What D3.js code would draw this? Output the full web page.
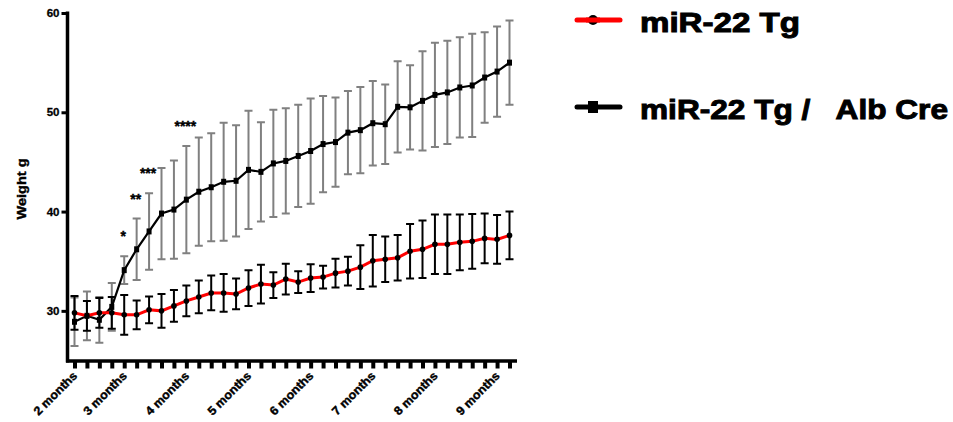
<!DOCTYPE html>
<html>
<head>
<meta charset="utf-8">
<script src="https://cdn.jsdelivr.net/npm/d3@7"></script>
<style>
  html, body { margin: 0; padding: 0; background: #fff; }
  svg { display: block; }
  text { font-family: "Liberation Sans", Arial, sans-serif; font-weight: bold; }
</style>
</head>
<body>
<svg id="chart" width="953" height="422"></svg>
<script>
// ---- data ----
const weekIndex = d3.range(36);
const xTickLabelIdx = [0, 4, 9, 14, 19, 24, 29, 34];
const xTickLabels = ["2 months", "3 months", "4 months", "5 months", "6 months", "7 months", "8 months", "9 months"];
const yTicks = [30, 40, 50, 60];

const tgMean = [29.8, 29.5, 29.8, 29.8, 29.6, 29.6, 30.1, 30.0, 30.5, 31.0, 31.4, 31.8,
                31.8, 31.7, 32.3, 32.7, 32.6, 33.2, 32.9, 33.3, 33.4, 33.8, 34.0, 34.4,
                35.05, 35.2, 35.35, 36.0, 36.2, 36.7, 36.7, 36.9, 37.0, 37.3, 37.2, 37.6];
const tgSem  = [1.7, 1.5, 1.5, 1.6, 2.0, 1.45, 1.35, 1.7, 1.6, 1.55, 1.65, 1.75,
                1.9, 1.55, 1.8, 1.95, 1.3, 1.55, 1.1, 1.4, 1.15, 1.45, 1.45, 2.2,
                2.6, 2.3, 2.3, 2.75, 2.9, 3.0, 3.0, 2.8, 2.75, 2.5, 2.45, 2.4];

const creMean = [28.9, 29.5, 29.1, 30.4, 34.1, 36.2, 38.0, 39.8, 40.2, 41.2, 42.0, 42.45,
                 43.0, 43.1, 44.2, 44.0, 44.85, 45.1, 45.6, 46.1, 46.8, 47.0, 47.95, 48.2,
                 48.9, 48.8, 50.55, 50.5, 51.15, 51.75, 52.0, 52.5, 52.7, 53.5, 54.1, 55.0];
const creSem  = [2.45, 2.45, 2.3, 2.4, 1.4, 3.1, 3.85, 4.6, 4.95, 5.4, 5.45, 5.45,
                 5.95, 5.6, 5.95, 5.0, 5.4, 5.3, 5.15, 5.3, 4.85, 4.5, 4.2, 4.35,
                 4.25, 4.0, 4.6, 4.25, 5.0, 5.25, 5.2, 5.05, 5.2, 4.55, 4.55, 4.25];

const sigIdx = [4, 5, 6, 9];
const sigLabels = ["*", "**", "***", "****"];

const seriesNames = ["miR-22 Tg", "miR-22 Tg /   Alb Cre"];

// ---- scales ----
const svg = d3.select("#chart");
const x = d3.scaleLinear().domain([0, 35]).range([74.5, 509.5]);
const y = d3.scaleLinear().domain([25, 60]).range([360.5, 13]);

const capW = 4;

// ---- axes ----
const yAxis = svg.append("g").attr("transform", "translate(67.5,0)")
  .call(d3.axisLeft(y).tickValues(yTicks).tickSize(6).tickPadding(2).tickFormat(d3.format("d")));
yAxis.select(".domain").remove();
yAxis.selectAll(".tick line").attr("stroke", "#000").attr("stroke-width", 3);
yAxis.selectAll(".tick text").attr("font-size", 11.5).attr("fill", "#000")
  .attr("stroke", "#000").attr("stroke-width", 0.3)
  .attr("font-family", "Liberation Sans, Arial, sans-serif").attr("font-weight", "bold");
svg.append("line").attr("x1", 67.5).attr("x2", 67.5).attr("y1", y(60) - 1.5).attr("y2", y(25) + 2)
  .attr("stroke", "#000").attr("stroke-width", 3.5);

const xAxis = svg.append("g").attr("transform", `translate(0,${y(25) + 0.5})`)
  .call(d3.axisBottom(x).tickValues(weekIndex).tickSize(7.5).tickFormat(""));
xAxis.select(".domain").remove();
xAxis.selectAll(".tick line").attr("stroke", "#000").attr("stroke-width", 4);
svg.append("line").attr("x1", 66).attr("x2", 517).attr("y1", y(25) + 0.5).attr("y2", y(25) + 0.5)
  .attr("stroke", "#000").attr("stroke-width", 3.5);

// x labels, rotated
svg.append("g").selectAll("text").data(xTickLabelIdx).join("text")
  .attr("transform", d => `translate(${x(d) + 3.5},${y(25) + 16}) rotate(-45)`)
  .attr("text-anchor", "end")
  .attr("font-size", 12)
  .attr("textLength", 56)
  .attr("lengthAdjust", "spacingAndGlyphs")
  .attr("fill", "#000")
  .attr("stroke", "#000").attr("stroke-width", 0.4)
  .text((d, i) => xTickLabels[i]);

// y title
svg.append("text")
  .attr("transform", `translate(26,189) rotate(-90)`)
  .attr("text-anchor", "middle")
  .attr("font-size", 12)
  .attr("textLength", 61)
  .attr("lengthAdjust", "spacingAndGlyphs")
  .attr("fill", "#000")
  .attr("stroke", "#000").attr("stroke-width", 0.4)
  .text("Weight g");

// ---- error bars for Alb Cre (grey) ----
const gCreBars = svg.append("g").attr("stroke", "#808080").attr("stroke-width", 2).attr("fill", "none");
gCreBars.selectAll("path").data(weekIndex).join("path")
  .attr("d", i => {
    const cx = x(i), t = y(creMean[i] + creSem[i]), b = y(creMean[i] - creSem[i]);
    return `M${cx - capW},${t}H${cx + capW}M${cx},${t}V${b}M${cx - capW},${b}H${cx + capW}`;
  });

// Alb Cre line
const lineCre = d3.line().x(i => x(i)).y(i => y(creMean[i]));
svg.append("path").datum(weekIndex).attr("d", lineCre)
  .attr("fill", "none").attr("stroke", "#000").attr("stroke-width", 2.2);
svg.append("g").selectAll("rect").data(weekIndex).join("rect")
  .attr("x", i => x(i) - 2.5).attr("y", i => y(creMean[i]) - 3)
  .attr("width", 5).attr("height", 6).attr("fill", "#000");

// ---- error bars for Tg (black) ----
const gTgBars = svg.append("g").attr("stroke", "#000").attr("stroke-width", 2).attr("fill", "none");
gTgBars.selectAll("path").data(weekIndex).join("path")
  .attr("d", i => {
    const cx = x(i), t = y(tgMean[i] + tgSem[i]), b = y(tgMean[i] - tgSem[i]);
    return `M${cx - capW},${t}H${cx + capW}M${cx},${t}V${b}M${cx - capW},${b}H${cx + capW}`;
  });

// Tg line
const lineTg = d3.line().x(i => x(i)).y(i => y(tgMean[i]));
svg.append("path").datum(weekIndex).attr("d", lineTg)
  .attr("fill", "none").attr("stroke", "#ff0000").attr("stroke-width", 3);
svg.append("g").selectAll("circle").data(weekIndex).join("circle")
  .attr("cx", i => x(i)).attr("cy", i => y(tgMean[i])).attr("r", 2.8).attr("fill", "#000");

// ---- significance ----
svg.append("g").selectAll("text").data(sigIdx).join("text")
  .attr("x", i => x(i) - 1)
  .attr("y", i => y(creMean[i] + creSem[i]) - 15)
  .attr("text-anchor", "middle")
  .attr("font-size", 14)
  .attr("fill", "#000")
  .attr("stroke", "#000").attr("stroke-width", 0.4)
  .text((d, k) => sigLabels[k]);

// ---- legend ----
const leg = svg.append("g");
// entry 1
leg.append("line").attr("x1", 577).attr("x2", 620).attr("y1", 20).attr("y2", 20)
  .attr("stroke", "#ff0000").attr("stroke-width", 5).attr("stroke-linecap", "round");
leg.append("circle").attr("cx", 593).attr("cy", 20).attr("r", 5).attr("fill", "#000");
leg.append("line").attr("x1", 586).attr("x2", 600).attr("y1", 20).attr("y2", 20)
  .attr("stroke", "#ff0000").attr("stroke-width", 5);
leg.append("text").attr("x", 640).attr("y", 32).attr("font-size", 28)
  .attr("textLength", 160).attr("lengthAdjust", "spacingAndGlyphs").attr("fill", "#000")
  .attr("stroke", "#000").attr("stroke-width", 1)
  .text(seriesNames[0]);
// entry 2
leg.append("line").attr("x1", 577).attr("x2", 620).attr("y1", 107).attr("y2", 107)
  .attr("stroke", "#000").attr("stroke-width", 5).attr("stroke-linecap", "round");
leg.append("rect").attr("x", 588).attr("y", 101).attr("width", 10).attr("height", 12).attr("fill", "#000");
leg.append("text").attr("x", 640).attr("y", 119).attr("font-size", 28)
  .attr("textLength", 308).attr("lengthAdjust", "spacingAndGlyphs").attr("fill", "#000")
  .attr("stroke", "#000").attr("stroke-width", 1)
  .attr("xml:space", "preserve").style("white-space", "pre")
  .text(seriesNames[1]);
</script>
</body>
</html>
